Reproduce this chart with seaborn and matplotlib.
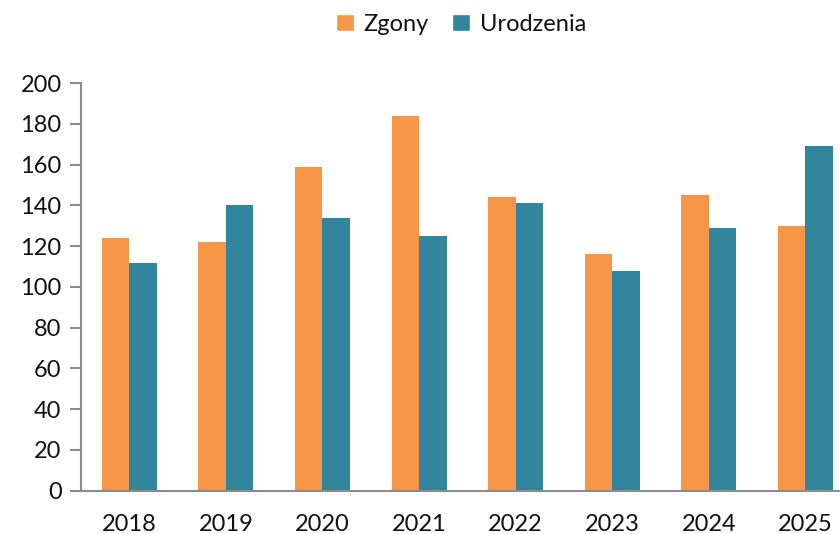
import matplotlib

matplotlib.use("Agg")
import matplotlib.pyplot as plt
import pandas as pd
import seaborn as sns
from matplotlib.patches import Patch

# Dane
years = ["2018", "2019", "2020", "2021", "2022", "2023", "2024", "2025"]
zgony = [124, 122, 159, 184, 144, 116, 145, 130]
urodzenia = [112, 140, 134, 125, 141, 108, 129, 169]
series_names = ["Zgony", "Urodzenia"]
colors = ["#F79646", "#31859C"]

df = pd.DataFrame({
    "rok": years * 2,
    "wartosc": zgony + urodzenia,
    "seria": [series_names[0]] * len(years) + [series_names[1]] * len(years),
})

sns.set_style("white")
plt.rcParams["font.family"] = ["Lato", "DejaVu Sans"]

fig = plt.figure(figsize=(8.4, 5.34), dpi=100)
ax = fig.add_axes([0.0964, 0.0811, 0.92, 0.763])

sns.barplot(
    data=df, x="rok", y="wartosc", hue="seria", hue_order=series_names,
    palette=colors, width=0.57, gap=0, saturation=1, errorbar=None,
    legend=False, linewidth=0, ax=ax,
)

ax.set_xlim(-0.5, len(years) - 0.5)
ax.set_ylim(0, 200)
ax.set_yticks(range(0, 201, 20))
ax.set_xlabel("")
ax.set_ylabel("")

axis_grey = "#8C8C8C"
for side in ["top", "right"]:
    ax.spines[side].set_visible(False)
for side in ["left", "bottom"]:
    ax.spines[side].set_color(axis_grey)
    ax.spines[side].set_linewidth(1.5)

# znaczniki osi X na granicach kategorii
ax.set_xticks([i - 0.5 for i in range(len(years) + 1)], minor=True)
ax.tick_params(axis="x", which="major", length=0, labelsize=17, pad=17,
               labelcolor="#111111")
ax.tick_params(axis="x", which="minor", length=8, width=1.5, color=axis_grey, direction="out")
ax.tick_params(axis="y", length=8, width=1.5, color=axis_grey, labelsize=17, pad=6,
               direction="out", left=True, labelcolor="#111111")

handles = [Patch(facecolor=c, label=n) for c, n in zip(colors, series_names)]
fig.legend(handles=handles, loc="center", bbox_to_anchor=(0.549, 0.955), ncol=2,
           frameon=False, fontsize=17, handlelength=0.75, handleheight=0.75,
           handletextpad=0.4, columnspacing=1.0, labelcolor="#111111")

fig.savefig("out.png", dpi=100)
